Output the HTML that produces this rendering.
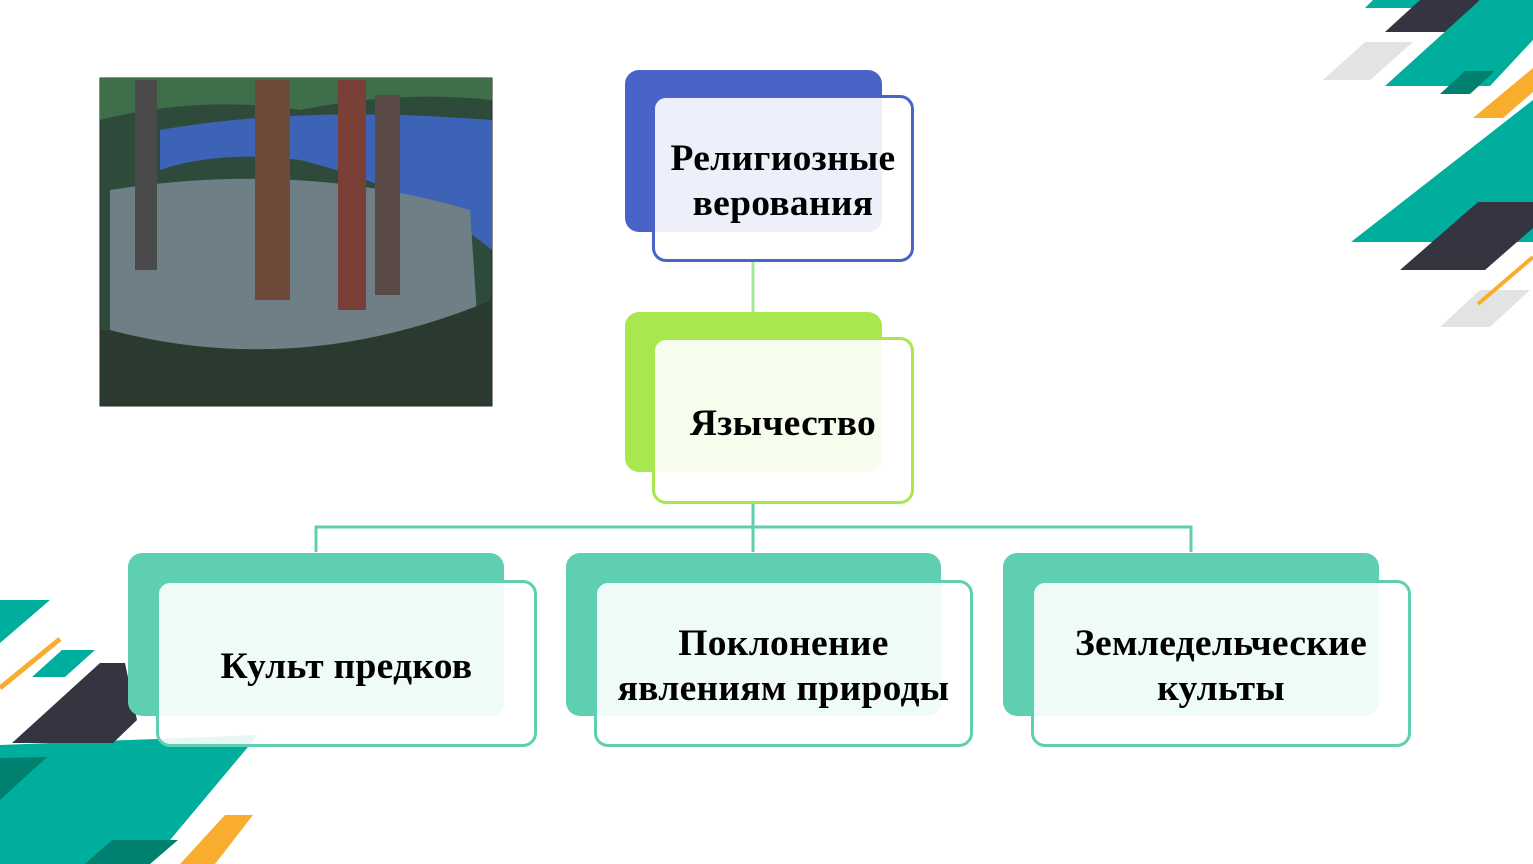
<!DOCTYPE html>
<html><head><meta charset="utf-8"><style>
body{margin:0;width:1533px;height:864px;overflow:hidden;background:#fff;position:relative;font-family:"Liberation Serif",serif}
.b{position:absolute;border-radius:14px}
.f{position:absolute;border-radius:14px;background:rgba(255,255,255,0.9);box-sizing:border-box;display:flex;align-items:center;justify-content:center;text-align:center;font-weight:bold;font-size:37.5px;line-height:45px;color:#000;letter-spacing:0.3px}
svg{position:absolute;left:0;top:0}
</style></head><body>
<svg width="1533" height="864">
<g>
<polygon points="1373,0 1430,0 1420,8 1365,8" fill="#00ae9e"/>
<polygon points="1420,0 1480,0 1448,32 1385,32" fill="#353441"/>
<polygon points="1480,0 1533,0 1533,40 1490,86 1385,86" fill="#00ae9e"/>
<polygon points="1323,80 1370,80 1413,42 1365,42" fill="#e3e3e3"/>
<polygon points="1440,94 1470,94 1495,71 1465,71" fill="#00806f"/>
<polygon points="1473,118 1503,118 1533,92 1533,68" fill="#f8ad2f"/>
<polygon points="1351,242 1533,242 1533,100" fill="#00ae9e"/>
<polygon points="1400,270 1485,270 1533,228 1533,202 1478,202" fill="#353441"/>
<polygon points="1440,327 1490,327 1530,290 1480,290" fill="#e3e3e3"/>
<line x1="1478" y1="304" x2="1533" y2="257" stroke="#f8ad2f" stroke-width="4"/>
<polygon points="0,600 50,600 0,643" fill="#00ae9e"/>
<line x1="0" y1="688" x2="60" y2="639" stroke="#f8ad2f" stroke-width="5"/>
<polygon points="32,677 65,677 95,650 62,650" fill="#00ae9e"/>
<polygon points="0,745 258,735 150,864 0,864" fill="#00ae9e"/>
<polygon points="12,743 113,743 137,720 125,663 100,663" fill="#353441"/>
<polygon points="0,758 47,757 0,800" fill="#00806f"/>
<polygon points="85,864 112,840 178,840 150,864" fill="#00806f"/>
<polygon points="180,864 215,864 253,815 225,815" fill="#f8ad2f"/>
</g>
<g>
<rect x="100" y="78" width="392" height="328" fill="#2e4a3a" stroke="#222" stroke-width="1"/>
<path d="M100,78 H492 V100 Q400,90 300,110 Q200,95 100,120Z" fill="#3f6e4a"/>
<path d="M160,130 Q300,105 492,120 V250 Q420,190 300,160 Q220,150 160,170Z" fill="#3c63b5"/>
<path d="M110,190 Q300,160 470,210 L480,360 H110Z" fill="#6f7f86"/>
<path d="M110,330 Q300,380 492,300 V406 H100 V330Z" fill="#2b3a2e"/>
<rect x="255" y="80" width="35" height="220" fill="#6e4a3a"/>
<rect x="338" y="80" width="28" height="230" fill="#7a4038"/>
<rect x="375" y="95" width="25" height="200" fill="#5a4a45"/>
<rect x="135" y="80" width="22" height="190" fill="#4a4a4a"/>
</g>
<g stroke="#a6e6a0" stroke-width="3" fill="none"><line x1="753" y1="261" x2="753" y2="337"/></g>
<g stroke="#5ecfb0" stroke-width="3" fill="none">
<line x1="753" y1="503" x2="753" y2="552"/>
<polyline points="316,552 316,527 1191,527 1191,552"/>
</g>
</svg>
<div class="b" style="left:625px;top:70px;width:257px;height:162px;background:#4a63c8"></div>
<div class="f" style="left:652px;top:95px;width:262px;height:167px;border:3px solid #4a63c8;padding-top:4px">Религиозные<br>верования</div>
<div class="b" style="left:625px;top:312px;width:257px;height:160px;background:#a8e84e"></div>
<div class="f" style="left:652px;top:337px;width:262px;height:167px;border:3px solid #a8e84e;padding-top:6px">Язычество</div>
<div class="b" style="left:128px;top:553px;width:376px;height:163px;background:#5fcfb2"></div>
<div class="f" style="left:156px;top:580px;width:381px;height:167px;border:3px solid #5fcfb2;padding-top:6px">Культ предков</div>
<div class="b" style="left:566px;top:553px;width:375px;height:163px;background:#5fcfb2"></div>
<div class="f" style="left:594px;top:580px;width:379px;height:167px;border:3px solid #5fcfb2;padding-top:4px">Поклонение<br>явлениям природы</div>
<div class="b" style="left:1003px;top:553px;width:376px;height:163px;background:#5fcfb2"></div>
<div class="f" style="left:1031px;top:580px;width:380px;height:167px;border:3px solid #5fcfb2;padding-top:4px">Земледельческие<br>культы</div>
</body></html>
